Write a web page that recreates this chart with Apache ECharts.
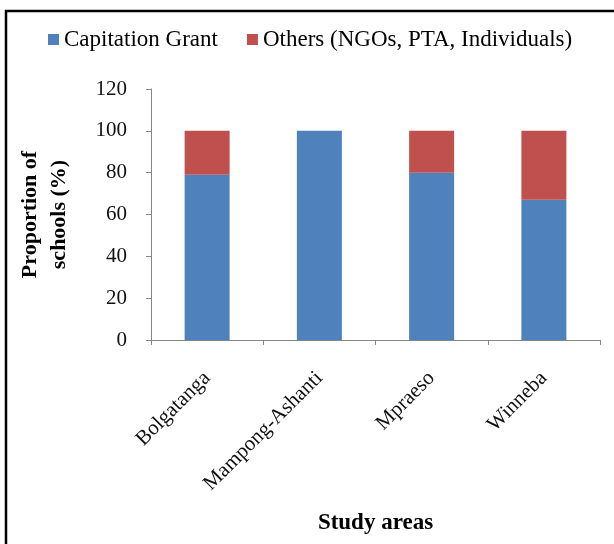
<!DOCTYPE html>
<html>
<head>
<meta charset="utf-8">
<script src="https://cdn.jsdelivr.net/npm/echarts@6/dist/echarts.min.js"></script>
<style>
html,body{margin:0;padding:0;background:#fff;}
#c{width:614px;height:544px;}
</style>
</head>
<body>
<div id="c"></div>
<script>
const categories = ['Bolgatanga', 'Mampong-Ashanti', 'Mpraeso', 'Winneba'];
const capitationGrant = [79, 100, 80, 67];
const others = [21, 0, 20, 33];
const yTicks = [0, 20, 40, 60, 80, 100, 120];

const chart = echarts.init(document.getElementById('c'), null, {renderer: 'canvas'});
const serif = '"Liberation Serif", "Times New Roman", serif';
chart.setOption({
  animation: false,
  backgroundColor: '#fff',
  graphic: [{
    type: 'rect',
    shape: {x: 6, y: 11, width: 700, height: 700},
    style: {fill: 'none', stroke: '#000', lineWidth: 2.5},
    silent: true
  }],
  legend: {
    left: 43,
    top: 23,
    itemWidth: 11,
    itemHeight: 11,
    itemGap: 29,
    icon: 'rect',
    textStyle: {fontFamily: serif, fontSize: 23, color: '#000'},
    data: ['Capitation Grant', 'Others (NGOs, PTA, Individuals)']
  },
  grid: {left: 151, right: 14, top: 89, bottom: 204},
  xAxis: {
    type: 'category',
    data: categories,
    name: 'Study areas',
    nameLocation: 'middle',
    nameGap: 172,
    nameTextStyle: {fontFamily: serif, fontSize: 23, fontWeight: 'bold', color: '#000'},
    axisLine: {lineStyle: {color: '#868686', width: 1}},
    axisTick: {show: true, length: 5, lineStyle: {color: '#868686'}},
    axisLabel: {rotate: 45, margin: 35, fontFamily: serif, fontSize: 21, color: '#111'}
  },
  yAxis: {
    type: 'value',
    min: 0, max: 120, interval: 20,
    name: 'Proportion of\nschools (%)',
    nameLocation: 'middle',
    nameGap: 77,
    nameTextStyle: {fontFamily: serif, fontSize: 22, fontWeight: 'bold', color: '#000', lineHeight: 29},
    axisLine: {show: true, lineStyle: {color: '#868686', width: 1}},
    axisTick: {show: true, length: 5, lineStyle: {color: '#868686'}},
    splitLine: {show: false},
    axisLabel: {margin: 24, fontFamily: serif, fontSize: 21, color: '#111',
      formatter: v => yTicks.includes(v) ? String(v) : ''}
  },
  series: [
    {name: 'Capitation Grant', type: 'bar', stack: 'total', barWidth: 45,
     itemStyle: {color: '#4F81BD'}, data: capitationGrant},
    {name: 'Others (NGOs, PTA, Individuals)', type: 'bar', stack: 'total', barWidth: 45,
     itemStyle: {color: '#C0504D'}, data: others}
  ]
});
</script>
</body>
</html>
